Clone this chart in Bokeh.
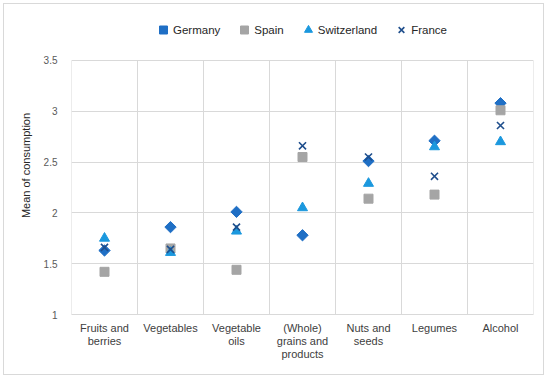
import math
from bokeh.plotting import figure
from bokeh.models import Range1d, FixedTicker, Legend, LegendItem
from bokeh.embed import file_html
from bokeh.resources import INLINE

categories = ["Fruits and\nberries", "Vegetables", "Vegetable\noils",
              "(Whole)\ngrains and\nproducts", "Nuts and\nseeds", "Legumes", "Alcohol"]
germany = [1.63, 1.86, 2.01, 1.78, 2.51, 2.71, 3.08]
spain = [1.42, 1.65, 1.44, 2.55, 2.14, 2.18, 3.01]
switzerland = [1.75, 1.61, 1.82, 2.05, 2.29, 2.65, 2.70]
france = [1.66, 1.64, 1.86, 2.66, 2.55, 2.36, 2.86]
y_ticks = [1, 1.5, 2, 2.5, 3, 3.5]

FONT = "Liberation Sans"
GRID = "#d9d9d9"
n = len(categories)
x = [i + 0.5 for i in range(n)]
bounds = list(range(n + 1))
y_min, y_max = y_ticks[0], y_ticks[-1]

# frame extends above the value axis to host the legend
p = figure(width=541, height=372, output_backend="svg", toolbar_location=None,
           x_range=Range1d(0, n), y_range=Range1d(y_min, y_max + 0.433),
           min_border_left=67, min_border_right=12, min_border_top=12, min_border_bottom=62)
p.styles = {"border": "1px solid #d9d9d9", "margin-left": "3px", "margin-top": "3px"}
p.background_fill_color = "white"
p.border_fill_color = "white"
p.outline_line_color = None

p.xaxis.ticker = FixedTicker(ticks=x)
p.xaxis.major_label_overrides = {xx: c for xx, c in zip(x, categories)}
p.xaxis.axis_line_color = GRID
p.xaxis.major_tick_line_color = None
p.xaxis.minor_tick_line_color = None
p.xaxis.major_label_text_font = FONT
p.xaxis.major_label_text_font_size = "11px"
p.xaxis.major_label_text_color = "#404040"
p.xaxis.major_label_text_line_height = 1.1
p.xaxis.major_label_standoff = 1

p.yaxis.ticker = FixedTicker(ticks=y_ticks)
p.yaxis.axis_line_color = None
p.yaxis.major_tick_line_color = None
p.yaxis.minor_tick_line_color = None
p.yaxis.major_label_text_font = FONT
p.yaxis.major_label_text_font_size = "10px"
p.yaxis.major_label_text_color = "#595959"
p.yaxis.major_label_standoff = 8
p.yaxis.axis_label = "Mean of consumption"
p.yaxis.axis_label_text_font = FONT
p.yaxis.axis_label_text_font_size = "11px"
p.yaxis.axis_label_text_font_style = "normal"
p.yaxis.axis_label_text_color = "#262626"
p.yaxis.axis_label_standoff = 9

p.xgrid.grid_line_color = None
p.ygrid.ticker = FixedTicker(ticks=y_ticks)
p.ygrid.grid_line_color = GRID

# vertical category separators and plot-area side borders
p.segment(x0=bounds, y0=[y_min] * len(bounds), x1=bounds, y1=[y_max] * len(bounds),
          line_color=GRID, line_width=1)

r_de = p.scatter(x, germany, marker="square", angle=math.pi / 4, size=8, color="#1f6fc5")
r_es = p.scatter(x, spain, marker="square", size=9, color="#a5a5a5")
r_ch = p.scatter(x, switzerland, marker="triangle", size=10, color="#1b98de")
r_fr = p.scatter(x, france, marker="x", size=10, line_color="#1f4e8c", line_width=1.6)

legend = Legend(items=[LegendItem(label="Germany", renderers=[r_de]),
                       LegendItem(label="Spain", renderers=[r_es]),
                       LegendItem(label="Switzerland", renderers=[r_ch]),
                       LegendItem(label="France", renderers=[r_fr])],
                orientation="horizontal", location=(82, 272),
                padding=0, margin=0, spacing=14, label_standoff=0,
                glyph_width=20, glyph_height=25, label_height=14,
                label_text_font=FONT, label_text_font_size="11.5px",
                label_text_color="#262626", border_line_color=None,
                background_fill_alpha=0)
p.add_layout(legend, "center")

open("out.html", "w").write(file_html(p, INLINE))
